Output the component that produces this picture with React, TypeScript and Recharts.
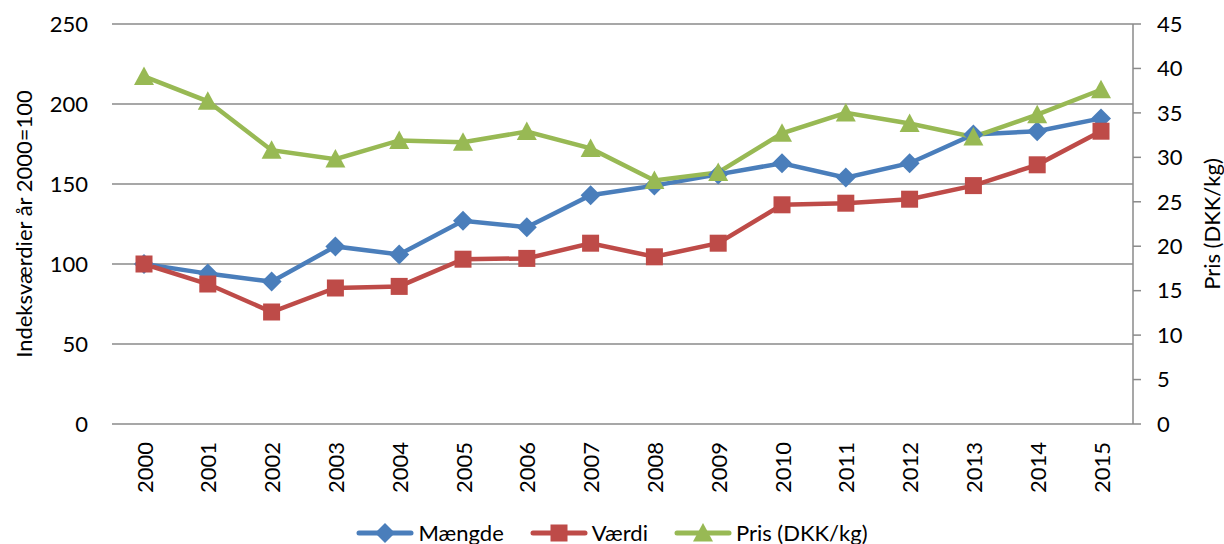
import React from 'react';
import {
  LineChart,
  Line,
  XAxis,
  YAxis,
  CartesianGrid,
  Legend,
} from 'recharts';

const years = ['2000', '2001', '2002', '2003', '2004', '2005', '2006', '2007', '2008', '2009', '2010', '2011', '2012', '2013', '2014', '2015'];
const maengde = [100, 94, 89, 111, 106, 127, 123, 143, 149, 156, 163, 154, 163, 181, 183, 191];
const vaerdi = [100, 87.5, 70, 85, 86, 103, 103.5, 113, 104.5, 113, 137, 138, 140.5, 149, 162, 183];
const pris = [39.1, 36.3, 30.8, 29.8, 31.9, 31.7, 32.9, 31.0, 27.4, 28.3, 32.7, 35.0, 33.8, 32.3, 34.8, 37.6];

const leftTicks = [0, 50, 100, 150, 200, 250];
const rightTicks = [0, 5, 10, 15, 20, 25, 30, 35, 40, 45];

const BLUE = '#4A7EBB';
const RED = '#BE4B48';
const GREEN = '#98B954';
const GRID = '#8a8a8a';
const FONT = 'Lato, "Open Sans", sans-serif';
const FS = 22;

const chartData = years.map((y, i) => ({
  year: y,
  maengde: maengde[i],
  vaerdi: vaerdi[i],
  pris: pris[i],
}));

function diamond(cx: number, cy: number, fill: string, r = 10) {
  return <polygon points={`${cx},${cy - r} ${cx + r},${cy} ${cx},${cy + r} ${cx - r},${cy}`} fill={fill} />;
}
function square(cx: number, cy: number, fill: string, r = 8.5) {
  return <rect x={cx - r} y={cy - r} width={r * 2} height={r * 2} fill={fill} />;
}
function triangle(cx: number, cy: number, fill: string, r = 10) {
  return <polygon points={`${cx},${cy - r} ${cx + r},${cy + r * 0.85} ${cx - r},${cy + r * 0.85}`} fill={fill} />;
}

const YearTick = (props: any) => {
  const { x, y, payload } = props;
  return (
    <text
      x={x}
      y={y}
      transform={`rotate(-90, ${x}, ${y})`}
      textAnchor="end"
      dominantBaseline="central"
      fontFamily={FONT}
      fontSize={FS}
      fill="#000"
    >
      {payload.value}
    </text>
  );
};

const legendItems = [
  { name: 'Mængde', color: BLUE, marker: diamond },
  { name: 'Værdi', color: RED, marker: square },
  { name: 'Pris (DKK/kg)', color: GREEN, marker: triangle },
];

const ChartLegend = () => (
  <div style={{ display: 'flex', justifyContent: 'center', alignItems: 'center', gap: 26, fontFamily: FONT, fontSize: FS, color: '#000' }}>
    {legendItems.map((it) => (
      <div key={it.name} style={{ display: 'flex', alignItems: 'center' }}>
        <svg width={58} height={22} style={{ marginRight: 4 }}>
          <line x1={3} y1={11} x2={55} y2={11} stroke={it.color} strokeWidth={5} strokeLinecap="round" />
          {it.marker(29, 11, it.color)}
        </svg>
        <span>{it.name}</span>
      </div>
    ))}
  </div>
);

export default function App() {
  return (
    <div>
      <style>{'body{margin:0}'}</style>
      <LineChart width={1224} height={544} data={chartData} margin={{ top: 24, right: 0, bottom: 0, left: 0 }}>
        <CartesianGrid yAxisId="left" vertical={false} stroke={GRID} strokeWidth={1.5} />
        <XAxis
          dataKey="year"
          height={120}
          padding={{ left: 32, right: 32 }}
          axisLine={false}
          tickLine={false}
          tickSize={0}
          tickMargin={18}
          tick={<YearTick />}
          interval={0}
        />
        <YAxis
          yAxisId="left"
          width={112}
          domain={[0, 250]}
          ticks={leftTicks}
          axisLine={false}
          tickLine={false}
          tickSize={0}
          tickMargin={24}
          tick={{ fill: '#000', fontSize: FS, fontFamily: FONT }}
          label={{ value: 'Indeksværdier år 2000=100', angle: -90, position: 'center', dx: -32, fill: '#000', fontSize: FS, fontFamily: FONT }}
        />
        <YAxis
          yAxisId="right"
          orientation="right"
          width={91}
          domain={[0, 45]}
          ticks={rightTicks}
          axisLine={{ stroke: GRID, strokeWidth: 1.5 }}
          tickLine={{ stroke: GRID, strokeWidth: 1.5 }}
          tickSize={8}
          tickMargin={16}
          tick={{ fill: '#000', fontSize: FS, fontFamily: FONT, textAnchor: 'start' }}
          label={{ value: 'Pris (DKK/kg)', angle: -90, position: 'center', dx: 34, fill: '#000', fontSize: FS, fontFamily: FONT }}
        />
        <Legend
          verticalAlign="middle"
          align="center"
          wrapperStyle={{ top: 519, left: 0, width: 1224, height: 26 }}
          content={<ChartLegend />}
        />
        <Line
          yAxisId="left"
          dataKey="maengde"
          name="Mængde"
          stroke={BLUE}
          strokeWidth={4.5}
          isAnimationActive={false}
          dot={(p: any) => <g key={`m-${p.index}`}>{diamond(p.cx, p.cy, BLUE)}</g>}
          activeDot={false}
        />
        <Line
          yAxisId="left"
          dataKey="vaerdi"
          name="Værdi"
          stroke={RED}
          strokeWidth={4.5}
          isAnimationActive={false}
          dot={(p: any) => <g key={`v-${p.index}`}>{square(p.cx, p.cy, RED)}</g>}
          activeDot={false}
        />
        <Line
          yAxisId="right"
          dataKey="pris"
          name="Pris (DKK/kg)"
          stroke={GREEN}
          strokeWidth={4.5}
          isAnimationActive={false}
          dot={(p: any) => <g key={`p-${p.index}`}>{triangle(p.cx, p.cy, GREEN)}</g>}
          activeDot={false}
        />
      </LineChart>
    </div>
  );
}
